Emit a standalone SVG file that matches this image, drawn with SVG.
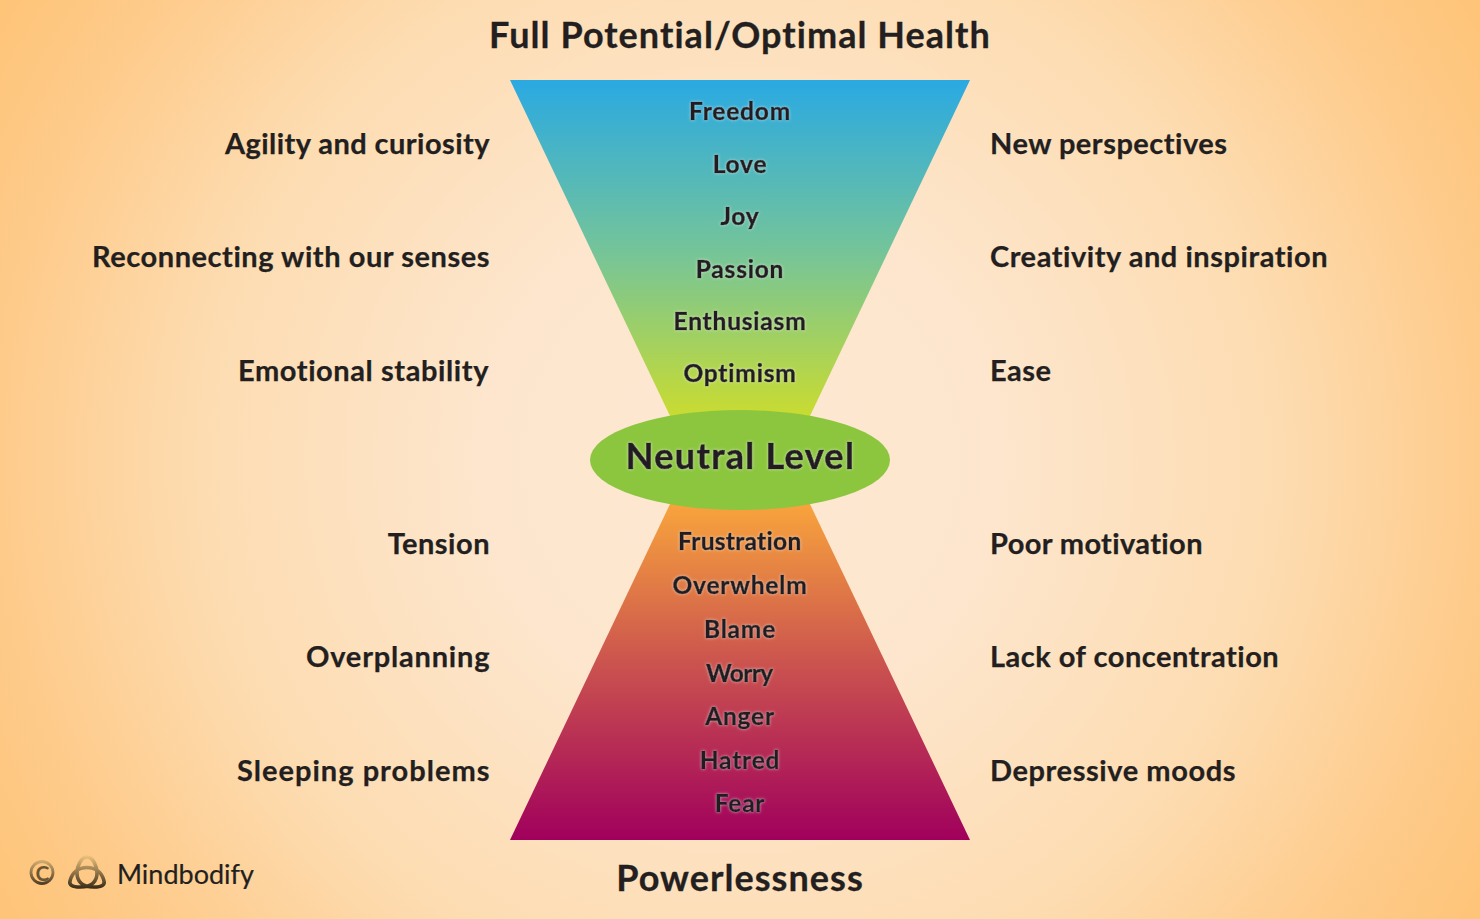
<svg xmlns="http://www.w3.org/2000/svg" width="1480" height="919" viewBox="0 0 1480 919">
<defs>
<radialGradient id="bg" gradientUnits="userSpaceOnUse" cx="740" cy="460" r="870">
<stop offset="0" stop-color="#fde8d2"/><stop offset="0.3" stop-color="#fde6cd"/><stop offset="0.62" stop-color="#fddcb1"/><stop offset="0.85" stop-color="#fecb8b"/><stop offset="1" stop-color="#fec478"/>
</radialGradient>
<linearGradient id="up" gradientUnits="userSpaceOnUse" x1="0" y1="80" x2="0" y2="420">
<stop offset="0" stop-color="#2aa9e2"/><stop offset="0.5" stop-color="#74c49a"/><stop offset="1" stop-color="#cbdc2e"/>
</linearGradient>
<linearGradient id="down" gradientUnits="userSpaceOnUse" x1="0" y1="500" x2="0" y2="840">
<stop offset="0" stop-color="#f9a63c"/><stop offset="0.5" stop-color="#c9504f"/><stop offset="1" stop-color="#a0005c"/>
</linearGradient>
<linearGradient id="logo" gradientUnits="userSpaceOnUse" x1="0" y1="855" x2="0" y2="890">
<stop offset="0" stop-color="#f3c680"/><stop offset="1" stop-color="#2f2413"/>
</linearGradient>
<filter id="glow" x="-20%" y="-40%" width="140%" height="180%">
<feGaussianBlur in="SourceAlpha" stdDeviation="1.6" result="b"/>
<feFlood flood-color="#ffffff" flood-opacity="0.55"/><feComposite in2="b" operator="in" result="g"/>
<feMerge><feMergeNode in="g"/><feMergeNode in="SourceGraphic"/></feMerge>
</filter>
</defs>
<style>
text{font-family:"Lato","Noto Sans","Liberation Sans",sans-serif;font-weight:700;fill:#231f20;font-variant-ligatures:none}
.l{font-size:29px;letter-spacing:.5px;text-anchor:end;stroke:#231f20;stroke-width:.25px}
.r{font-size:29px;letter-spacing:.5px;text-anchor:start;stroke:#231f20;stroke-width:.25px}
.t{font-size:36px;letter-spacing:1.05px;text-anchor:middle;stroke:#231f20;stroke-width:.3px}
.e{font-size:24.5px;letter-spacing:.8px;text-anchor:middle;stroke:#231f20;stroke-width:.6px;filter:url(#glow)}
.n{font-size:36px;letter-spacing:1.3px;text-anchor:middle;stroke:#231f20;stroke-width:.7px;filter:url(#glow)}
.logo{fill:none;stroke:url(#logo)}
</style>
<rect id="background" width="1480" height="919" fill="url(#bg)"/>
<g id="node-top-funnel"><polygon points="510,80 970,80 789,460 691,460" fill="url(#up)"/></g>
<g id="node-bottom-funnel"><polygon points="510,840 970,840 789,460 691,460" fill="url(#down)"/></g>
<g id="node-neutral"><ellipse cx="740" cy="460" rx="150" ry="50" fill="#8cc63f"/><text class="n" x="740.500" y="469">Neutral Level</text></g>
<g id="titles"><text class="t" x="740" y="48">Full Potential/Optimal Health</text><text class="t" x="740" y="891">Powerlessness</text></g>
<g id="emotions-up">
<text class="e" x="740" y="120">Freedom</text><text class="e" x="740" y="173">Love</text><text class="e" x="740" y="225">Joy</text><text class="e" x="740" y="278">Passion</text><text class="e" x="740" y="330">Enthusiasm</text><text class="e" x="740" y="382">Optimism</text>
</g>
<g id="emotions-down">
<text class="e" x="740" y="550" textLength="124">Frustration</text><text class="e" x="740" y="594">Overwhelm</text><text class="e" x="740" y="638">Blame</text><text class="e" x="740" y="682" textLength="68">Worry</text><text class="e" x="740" y="725">Anger</text><text class="e" x="740" y="769">Hatred</text><text class="e" x="740" y="812">Fear</text>
</g>
<g id="left-labels">
<text class="l" x="490" y="154" textLength="265">Agility and curiosity</text><text class="l" x="490" y="267" textLength="398">Reconnecting with our senses</text><text class="l" x="489" y="381" textLength="251">Emotional stability</text><text class="l" x="490" y="554">Tension</text><text class="l" x="490" y="667" textLength="184">Overplanning</text><text class="l" x="490" y="781" textLength="253">Sleeping problems</text>
</g>
<g id="right-labels">
<text class="r" x="990" y="154">New perspectives</text><text class="r" x="990" y="267" textLength="338">Creativity and inspiration</text><text class="r" x="990" y="381">Ease</text><text class="r" x="990" y="554" textLength="213">Poor motivation</text><text class="r" x="990" y="667">Lack of concentration</text><text class="r" x="990" y="781" textLength="246">Depressive moods</text>
</g>
<g id="logo-group">
<circle class="logo" cx="42" cy="872.500" r="11" stroke-width="2.800"/>
<text x="42.500" y="880.500" text-anchor="middle" font-size="21" style="fill:#6b5530">C</text>
<path class="logo" stroke-width="3.600" d="M87 857C93 857 97 866 97 873C97 880 93 887 80 887C72 887 69 885 70 881C72 873 78 867.500 87 867.500C96 867.500 102 873 104 881C105 885 102 887 94 887C81 887 77 880 77 873C77 866 81 857 87 857Z"/>
<text x="117" y="884" font-size="27" style="font-weight:400;stroke:#231f20;stroke-width:.2px">Mindbodify</text>
</g>
</svg>
